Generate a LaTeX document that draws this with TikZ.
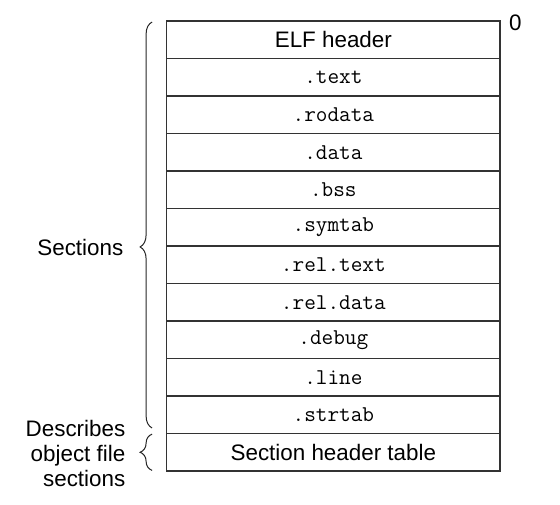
\documentclass[tikz,border=0pt]{standalone}
\usepackage{fontspec}
\setmainfont{Liberation Sans}
\usetikzlibrary{positioning, calc, decorations.pathreplacing}

\begin{document}
\begin{tikzpicture}[
    node distance=0pt,
    font=\fontsize{11.2}{12.5}\selectfont,
    row/.style={draw=black!80, line width=0.75pt, rectangle, outer sep=0pt, inner sep=0pt,
                minimum width=166.65pt, minimum height=18.75pt},
    sect/.style={row, font=\ttfamily\fontsize{11.3}{12}\selectfont},
    lbl/.style={inner sep=0pt, align=right},
    brace/.style={draw=black!85, line width=0.5pt, decorate, decoration={brace, amplitude=6pt}}
  ]
    \useasboundingbox (0,0) rectangle (280pt,-252pt);
    \node[row] (elf) at (166.675pt,-19.875pt) {ELF header};
    \node[sect, below=of elf] (text) {.text};
    \node[sect, below=of text] (rodata) {.rodata};
    \node[sect, below=of rodata] (data) {.data};
    \node[sect, below=of data] (bss) {.bss};
    \node[sect, below=of bss] (symtab) {.symtab};
    \node[sect, below=of symtab] (reltext) {.rel.text};
    \node[sect, below=of reltext] (reldata) {.rel.data};
    \node[sect, below=of reldata] (debug) {.debug};
    \node[sect, below=of debug] (line) {.line};
    \node[sect, below=of line] (strtab) {.strtab};
    \node[row, below=of strtab] (sht) {Section header table};
    \node[lbl, right=4.4pt of elf.north east, yshift=-0.75pt] (zero) {0};
    \node[lbl, left=21.5pt of symtab.south west, yshift=-0.5pt] (sections) {Sections};
    \node[lbl, left=20.5pt of sht.west, yshift=-0.4pt] (describes)
    {Describes\\object file\\sections};
    \draw[brace, decoration={aspect=0.446}]
      ($(strtab.south west)+(-7.3pt,2.75pt)$) -- ($(elf.north west)+(-7.3pt,-0.5pt)$);
    \draw[brace]
      ($(sht.south west)+(-7.3pt,0.3pt)$) -- ($(sht.north west)+(-7.3pt,-0.3pt)$);
  \end{tikzpicture}
\end{document}
